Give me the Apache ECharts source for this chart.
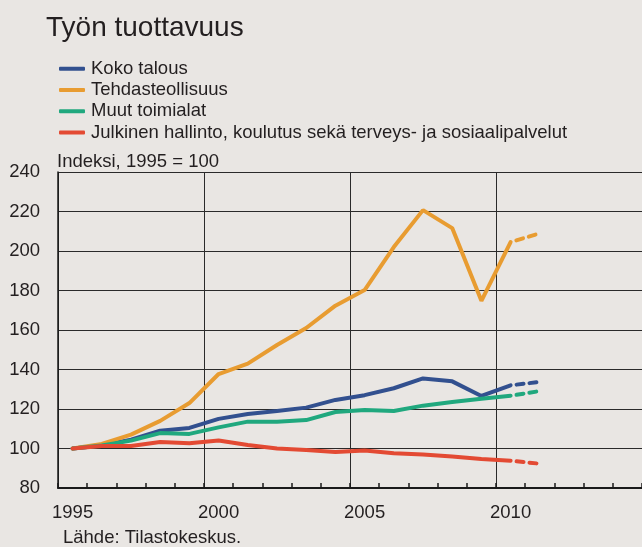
<!DOCTYPE html>
<html>
<head>
<meta charset="utf-8">
<style>
html,body{margin:0;padding:0;background:#e9e6e3;}
#chartmain{width:642px;height:547px;}
</style>
<script src="https://cdn.jsdelivr.net/npm/echarts@6/dist/echarts.min.js"></script>
</head>
<body>
<div id="chartmain"></div>
<script>
// vuodet x-akselilla (akseli jatkuu vuoteen 2014)
var years = ['1995','1996','1997','1998','1999','2000','2001','2002','2003','2004',
             '2005','2006','2007','2008','2009','2010','2011','2012','2013','2014'];
var xLabels = ['1995','2000','2005','2010'];
var yTicks = [80,100,120,140,160,180,200,220,240];

// arvot 1995-2011, 2011 on ennuste (katkoviiva)
var kokoTalous = [100,101.5,104.5,109,110.4,115,117.5,119,120.7,124.6,127,130.5,135.5,134,126.6,132,133.7];
var tehdas = [100,102.3,107,114,123,137.7,143,152.4,161,172.3,180.2,202,220.7,211.6,174.8,204.5,209];
var muut = [100,101.5,104,107.8,107.4,110.7,113.6,113.6,114.4,118.5,119.5,119,121.7,123.5,125.2,126.7,129.1];
var julkinen = [100,101.3,101.3,103.3,102.6,104,101.8,100,99.2,98.2,99,97.6,97,95.9,94.7,93.8,92.3];
var lastActual = '2010';

var names = ['Koko talous','Tehdasteollisuus','Muut toimialat','Julkinen hallinto, koulutus sekä terveys- ja sosiaalipalvelut'];
var colors = ['#32508f','#e89c31','#20a87e','#e34a33'];
var values = [kokoTalous, tehdas, muut, julkinen];

var font = 'Liberation Sans, Arial, sans-serif';
var fs = 18.5;
var cut = years.indexOf(lastActual);

function solid(arr){
    var out = [];
    for(var i=0;i<years.length;i++){
        out.push(i<=cut && i<arr.length ? arr[i] : null);
    }
    return out;
}
function dashed(arr){
    var out = [];
    for(var i=0;i<years.length;i++){
        out.push(i>=cut && i<arr.length ? arr[i] : null);
    }
    return out;
}

var series = [];
for(var k=0;k<names.length;k++){
    series.push({
        name:names[k],
        type:'line',
        data:solid(values[k]),
        symbol:'none',
        lineStyle:{color:colors[k],width:4,cap:'round'},
        itemStyle:{color:colors[k]},
        z:10+k
    });
    series.push({
        name:names[k]+' ennuste',
        type:'line',
        data:dashed(values[k]),
        symbol:'none',
        lineStyle:{color:colors[k],width:4,type:[7,6],dashOffset:7,cap:'round'},
        itemStyle:{color:colors[k]},
        z:10+k
    });
}

var option = {
    backgroundColor:'#e9e6e3',
    animation:false,
    textStyle:{fontFamily:font},
    title:{
        text:'Työn tuottavuus',
        left:46,
        top:14,
        padding:0,
        textStyle:{fontFamily:font,fontSize:28,fontWeight:'normal',color:'#231f20'}
    },
    legend:{
        data:names,
        orient:'vertical',
        left:59,
        top:58,
        padding:0,
        itemGap:0,
        itemWidth:26,
        itemHeight:4,
        icon:'roundRect',
        textStyle:{fontFamily:font,fontSize:fs,color:'#231f20',lineHeight:21.3,padding:[0,0,0,1]}
    },
    graphic:[
        {type:'text',left:57,top:152,style:{text:'Indeksi, 1995 = 100',font:fs+'px '+font,fill:'#231f20'}},
        {type:'text',left:63,top:528,style:{text:'Lähde: Tilastokeskus.',font:fs+'px '+font,fill:'#231f20'}}
    ],
    grid:{left:58,top:172,width:586,height:316,containLabel:false},
    xAxis:{
        type:'category',
        data:years,
        boundaryGap:true,
        axisLine:{lineStyle:{color:'#1a1a1a',width:2}},
        axisTick:{show:true,inside:true,length:5,interval:0,lineStyle:{color:'#1a1a1a',width:1.5}},
        axisLabel:{
            interval:function(i,v){return xLabels.indexOf(v)>=0;},
            margin:15,
            fontSize:fs,
            fontFamily:font,
            color:'#231f20'
        },
        splitLine:{
            show:true,
            interval:function(i){return i%5===0;},
            lineStyle:{color:'#2a2a2a',width:1}
        }
    },
    yAxis:{
        type:'value',
        min:yTicks[0],
        max:yTicks[yTicks.length-1],
        interval:20,
        axisLine:{show:true,lineStyle:{color:'#1a1a1a',width:1.5}},
        axisTick:{show:false},
        axisLabel:{margin:18,fontSize:fs,fontFamily:font,color:'#231f20'},
        splitLine:{show:true,lineStyle:{color:'#2a2a2a',width:1}}
    },
    series:series
};

var myChart = echarts.init(document.getElementById('chartmain'));
myChart.setOption(option);
</script>
</body>
</html>
